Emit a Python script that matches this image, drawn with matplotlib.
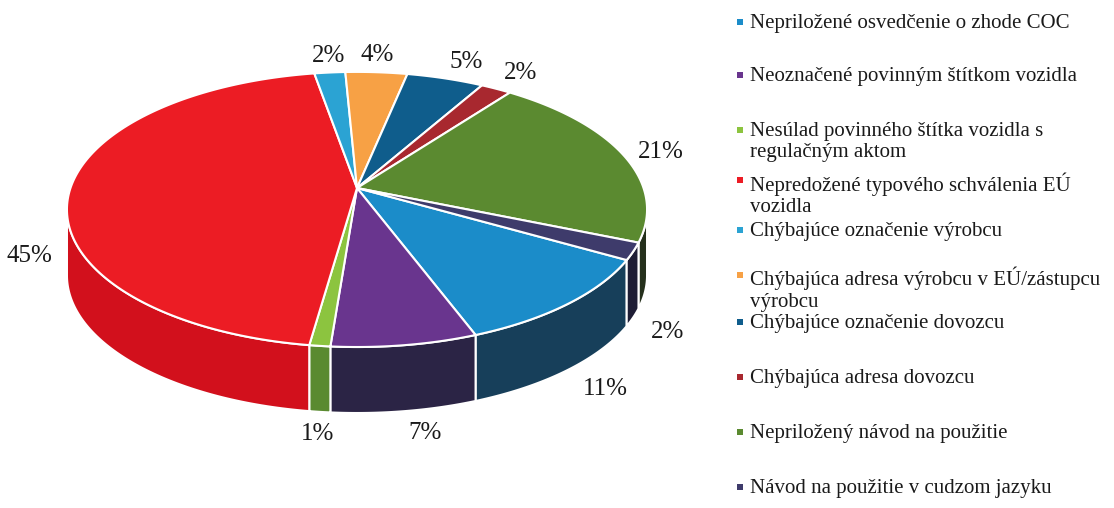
import numpy as np
import matplotlib.pyplot as plt
from matplotlib.patches import Polygon, Rectangle

categories = [
    "Nepriložené osvedčenie o zhode COC",
    "Neoznačené povinným štítkom vozidla",
    "Nesúlad povinného štítka vozidla s\nregulačným aktom",
    "Nepredožené typového schválenia EÚ\nvozidla",
    "Chýbajúce označenie výrobcu",
    "Chýbajúca adresa výrobcu v EÚ/zástupcu\nvýrobcu",
    "Chýbajúce označenie dovozcu",
    "Chýbajúca adresa dovozcu",
    "Nepriložený návod na použitie",
    "Návod na použitie v cudzom jazyku",
]
values = [11, 7, 1, 45, 2, 4, 5, 2, 21, 2]
top_colors = ["#1b8cc9", "#69358e", "#8cc43f", "#ec1c24", "#2ba3d3",
              "#f7a145", "#0f5d8c", "#a8282f", "#5b8a30", "#3e3b6b"]
side_colors = ["#173f5a", "#2b2445", "#5a8a30", "#d2101c", "#1d6f93",
               "#b8712e", "#0a3d5c", "#6e1a1f", "#25301c", "#1e1d35"]

# layout of the 3d pie, in pixels
cx, cy = 357, 188
rx, ry = 286.5, 134.2
persp = 0.156
depth = 66
start = -29.7
legend_rows = [22, 75, 130, 180, 230, 275, 322, 377, 432, 487]


def proj(r, t):
    s = 1 + persp * r * np.sin(t)
    return cx + rx * r * np.cos(t) / s, cy - ry * r * np.sin(t) / s


fig = plt.figure(figsize=(11.14, 5.08), dpi=100)
ax = fig.add_axes([0, 0, 1, 1])
ax.set_xlim(0, 1114)
ax.set_ylim(508, 0)
ax.axis("off")

fracs = np.array(values) / sum(values)
cum = np.concatenate([[0], np.cumsum(fracs)])
t_hi = np.radians(start - 360 * cum[:-1])
t_lo = np.radians(start - 360 * cum[1:])

# visible front wall between the two silhouette points
vis_lo = np.radians(-180) + np.arcsin(persp)
vis_hi = -np.arcsin(persp)

# walls
for i in range(len(values)):
    for shift in (0, 2 * np.pi, -2 * np.pi):
        a = max(t_lo[i] + shift, vis_lo)
        b = min(t_hi[i] + shift, vis_hi)
        if b <= a:
            continue
        t = np.linspace(a, b, 80)
        x, y = proj(1, t)
        pts = np.column_stack([np.r_[x, x[::-1]], np.r_[y, y[::-1] + depth]])
        ax.add_patch(Polygon(pts, closed=True, facecolor=side_colors[i],
                             edgecolor="white", linewidth=1.5, zorder=2))

# tops
for i in range(len(values)):
    t = np.linspace(t_lo[i], t_hi[i], 150)
    x, y = proj(1, t)
    pts = np.column_stack([np.r_[cx, x], np.r_[cy, y]])
    ax.add_patch(Polygon(pts, closed=True, facecolor=top_colors[i],
                         edgecolor="white", linewidth=1.5, zorder=3))

# percentage labels
for i, v in enumerate(values):
    tm = (t_lo[i] + t_hi[i]) / 2
    lx, ly = proj(1.06, tm)
    c, s = np.cos(tm), np.sin(tm)
    if s < 0.2:
        ly += depth
    ha = "center" if abs(c) < 0.12 else ("left" if c > 0 else "right")
    va = "center" if abs(s) < 0.3 else ("bottom" if s > 0 else "top")
    ax.text(lx, ly, f"{v}%", ha=ha, va=va, fontsize=18,
            family="Liberation Serif", color="#1a1a1a", zorder=5)

# legend
for i, lab in enumerate(categories):
    ry0 = legend_rows[i]
    ax.add_patch(Rectangle((737, ry0 - 3), 6, 6, facecolor=top_colors[i],
                           edgecolor="none", zorder=5))
    ax.text(750, ry0 - 8, lab, ha="left", va="top", fontsize=15,
            family="Liberation Serif", color="#1a1a1a", linespacing=1.16,
            zorder=5)

fig.savefig("out.png", dpi=100)
